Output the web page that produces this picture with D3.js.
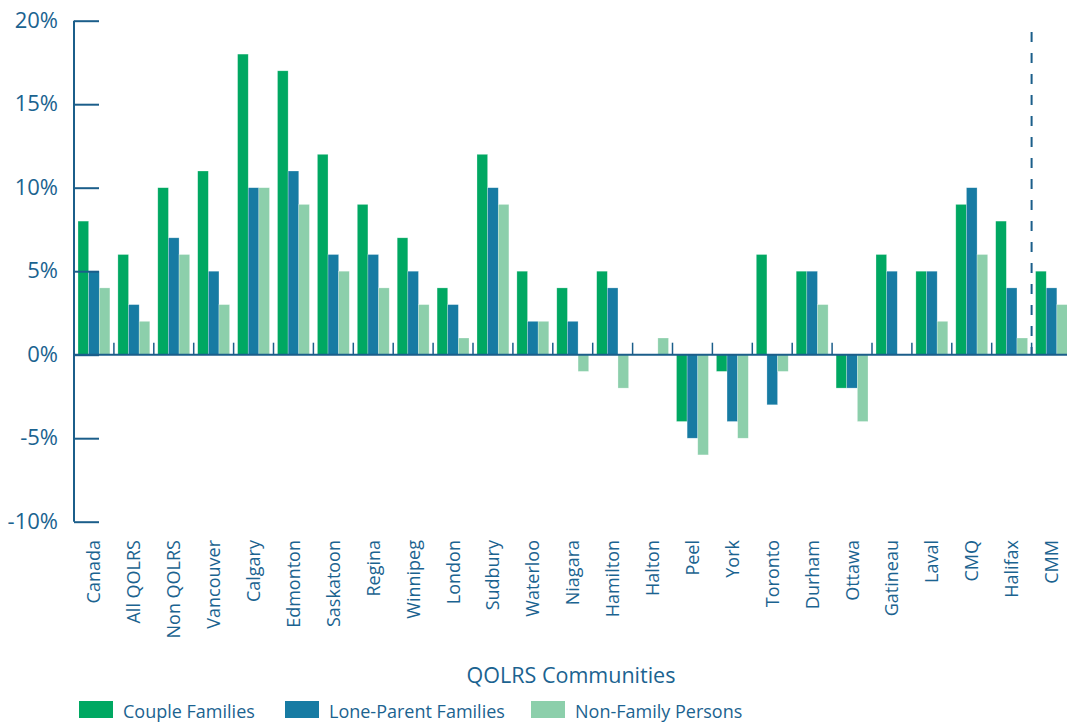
<!DOCTYPE html>
<html>
<head>
<meta charset="utf-8">
<script src="https://cdn.jsdelivr.net/npm/d3@7"></script>
<style>
    body { margin: 0; background: #fff; }
    svg { display: block; font-family: "Open Sans", "Noto Sans", sans-serif; }
    .tick-label, .cat-label, .axis-title, .legend-label { fill: #1b6390; }
</style>
</head>
<body>
<svg id="chart"></svg>
<script>
var CATEGORIES = ["Canada", "All QOLRS", "Non QOLRS", "Vancouver", "Calgary", "Edmonton", "Saskatoon",
    "Regina", "Winnipeg", "London", "Sudbury", "Waterloo", "Niagara", "Hamilton", "Halton", "Peel",
    "York", "Toronto", "Durham", "Ottawa", "Gatineau", "Laval", "CMQ", "Halifax", "CMM"];
var SERIES = ["Couple Families", "Lone-Parent Families", "Non-Family Persons"];
var COUPLE = [8, 6, 10, 11, 18, 17, 12, 9, 7, 4, 12, 5, 4, 5, 0, -4, -1, 6, 5, -2, 6, 5, 9, 8, 5];
var LONE_PARENT = [5, 3, 7, 5, 10, 11, 6, 6, 5, 3, 10, 2, 2, 4, 0, -5, -4, -3, 5, -2, 5, 5, 10, 4, 4];
var NON_FAMILY = [4, 2, 6, 3, 10, 9, 5, 4, 3, 1, 9, 2, -1, -2, 1, -6, -5, -1, 3, -4, 0, 2, 6, 1, 3];
var Y_TICKS = [-10, -5, 0, 5, 10, 15, 20];
var DIVIDER_AFTER = "Halifax";

(function () {
    var WIDTH = 1067;
    var HEIGHT = 725;

    var AXIS_X = 74;
    var STEP = 39.9;
    var Y_TOP = 20.7;
    var Y_BOTTOM = 521.7;

    var COLORS = ["#00a862", "#177ba3", "#8ccfab"];
    var AXIS_COLOR = "#1b5e8a";

    var values = [COUPLE, LONE_PARENT, NON_FAMILY];

    var svg = d3.select("#chart").attr("width", WIDTH).attr("height", HEIGHT);

    var x0 = d3.scaleBand().domain(CATEGORIES)
        .range([AXIS_X, AXIS_X + STEP * CATEGORIES.length])
        .paddingInner(0.2).paddingOuter(0.1);
    var x1 = d3.scaleBand().domain(d3.range(SERIES.length)).range([0, x0.bandwidth()]);
    var y = d3.scaleLinear().domain([-10, 20]).range([Y_BOTTOM, Y_TOP]);

    // bars
    var groups = svg.append("g").selectAll("g").data(CATEGORIES).join("g")
        .attr("transform", function (d) { return "translate(" + x0(d) + ",0)"; });
    groups.selectAll("rect")
        .data(function (d, i) { return values.map(function (v, s) { return {s: s, v: v[i]}; }); })
        .join("rect")
        .filter(function (d) { return d.v !== 0; })
        .attr("x", function (d) { return x1(d.s); })
        .attr("width", x1.bandwidth())
        .attr("y", function (d) { return y(Math.max(0, d.v)); })
        .attr("height", function (d) { return Math.abs(y(d.v) - y(0)); })
        .attr("fill", function (d) { return COLORS[d.s]; })
        .attr("stroke", "#ffffff").attr("stroke-opacity", 0.45).attr("stroke-width", 0.6);

    // y axis
    var yAxis = d3.axisRight(y).tickValues(Y_TICKS).tickSize(25).tickFormat(function (d) { return d + "%"; });
    var ya = svg.append("g").attr("transform", "translate(" + AXIS_X + ",0)").call(yAxis)
        .attr("font-family", null).attr("font-size", null);
    ya.select(".domain").remove();
    ya.selectAll("line").attr("stroke", AXIS_COLOR).attr("stroke-width", 2);
    ya.selectAll("text").attr("class", "tick-label")
        .attr("x", -16).attr("dy", "0.3em").attr("fill", null)
        .style("text-anchor", "end").style("font-size", "22px");
    svg.append("line").attr("x1", AXIS_X).attr("x2", AXIS_X).attr("y1", y(20)).attr("y2", y(-10))
        .attr("stroke", AXIS_COLOR).attr("stroke-width", 2);

    // zero line and group dividers
    svg.append("line").attr("x1", AXIS_X).attr("x2", WIDTH).attr("y1", y(0)).attr("y2", y(0))
        .attr("stroke", AXIS_COLOR).attr("stroke-width", 2);
    var bounds = CATEGORIES.slice(1).map(function (d) { return x0(d) - x0.step() * x0.paddingOuter(); });
    svg.append("g").selectAll("line").data(bounds).join("line")
        .attr("x1", function (d) { return d; }).attr("x2", function (d) { return d; })
        .attr("y1", y(0) - 12).attr("y2", y(0))
        .attr("stroke", AXIS_COLOR).attr("stroke-width", 1.5);

    var dashX = x0(DIVIDER_AFTER) + x0.step() * (1 - x0.paddingOuter());
    svg.append("line").attr("x1", dashX).attr("x2", dashX).attr("y1", 32).attr("y2", y(0))
        .attr("stroke", AXIS_COLOR).attr("stroke-width", 2).attr("stroke-dasharray", "10,11");

    // category labels
    svg.append("g").selectAll("text").data(CATEGORIES).join("text")
        .attr("class", "cat-label")
        .attr("transform", function (d) {
            return "translate(" + (x0(d) + x0.bandwidth() / 2) + ",540) rotate(-90)";
        })
        .attr("dy", "0.36em")
        .style("text-anchor", "end").style("font-size", "18px")
        .text(function (d) { return d; });

    svg.append("text").attr("class", "axis-title")
        .attr("x", 571).attr("y", 683)
        .style("text-anchor", "middle").style("font-size", "21.5px")
        .text("QOLRS Communities");

    // legend
    var LEGEND_X = [79, 285, 531];
    var legend = svg.append("g").selectAll("g").data(SERIES).join("g")
        .attr("transform", function (d, i) { return "translate(" + LEGEND_X[i] + ",701)"; });
    legend.append("rect").attr("width", 34).attr("height", 17)
        .attr("fill", function (d, i) { return COLORS[i]; });
    legend.append("text").attr("class", "legend-label")
        .attr("x", 44).attr("y", 17)
        .style("font-size", "18px")
        .text(function (d) { return d; });
}());
</script>
</body>
</html>
